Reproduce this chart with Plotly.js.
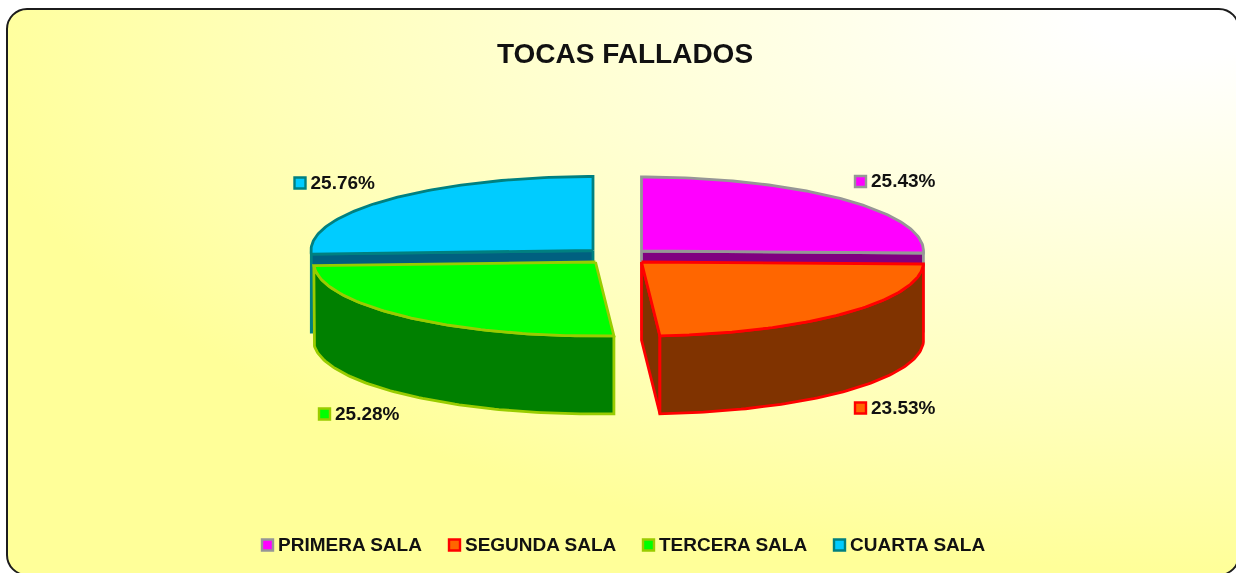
<!DOCTYPE html>
<html>
<head>
<meta charset="utf-8">
<script src="https://cdn.plot.ly/plotly-3.0.1.min.js"></script>
<style>
  html, body { margin: 0; padding: 0; width: 1236px; height: 573px; overflow: hidden; background: #fff; }
  #card { position: absolute; left: 6px; top: 8px; width: 1234px; height: 568px; box-sizing: border-box;
          border: 2px solid #1c1c1c; border-radius: 21px;
          background: radial-gradient(ellipse 1240px 560px at 96% 0%, #ffffff 8%, #ffffe0 38%, #ffffb8 75%, #ffff99 100%); }
  #chart { position: absolute; left: 0; top: 0; width: 1236px; height: 573px; filter: blur(0.4px); }
</style>
</head>
<body>
<div id="card"></div>
<div id="chart"></div>
<script>
// ---- data ----
const chartTitle = 'TOCAS FALLADOS';
const categories = ['PRIMERA SALA', 'SEGUNDA SALA', 'TERCERA SALA', 'CUARTA SALA'];
const percentages = [25.43, 23.53, 25.28, 25.76];

// ---- styles ----
const topColors  = ['#FF00FF', '#FF6600', '#00FF00', '#00CCFF'];
const wallColors = ['#800080', '#803300', '#008000', '#006080'];
const lineColors = ['#969696', '#FF0000', '#99CC00', '#008080'];

// ---- layout geometry (pixels of the 1236x573 picture) ----
const W = 1236, H = 573, CX = 617, CY = 256.5, RX = 282, RY = 74, DEPTH = 78;
const explodeX = [24.5, 24.5, -21.5, -24];
const explodeY = [-5.5, 5.5, 5.5, -6];
const valueLabelPx = [[860.5, 181.5], [860.5, 408], [324.5, 414], [300, 183]];
const legendKeyX = [267.5, 454.5, 648.5, 839.5];
const legendY = 545;
const keyToText = 10.5;

const toX = px => (px - CX) / RX;
const toY = py => (CY - py) / RX;
const rad = d => d * Math.PI / 180;

// Angular extents of the slices, clockwise from 12 o'clock
const total = percentages.reduce((a, b) => a + b, 0);
let running = 0;
const extents = percentages.map(v => {
  const a0 = running / total * 360;
  running += v;
  return [a0, running / total * 360];
});

function rim(i, deg, drop) {
  return [explodeX[i] / RX + Math.sin(rad(deg)),
          -explodeY[i] / RX + (RY / RX) * Math.cos(rad(deg)) - drop / RX];
}
function apex(i, drop) {
  return [explodeX[i] / RX, -explodeY[i] / RX - drop / RX];
}
function arc(i, a0, a1, drop) {
  const n = Math.max(2, Math.ceil(Math.abs(a1 - a0)));
  const pts = [];
  for (let k = 0; k <= n; k++) pts.push(rim(i, a0 + (a1 - a0) * k / n, drop));
  return pts;
}
function poly(name, pts, fill, line) {
  const closed = pts.concat([pts[0]]);
  return { type: 'scatter', mode: 'lines', name,
    x: closed.map(p => p[0]), y: closed.map(p => p[1]),
    fill: 'toself', fillcolor: fill,
    line: { color: line, width: 2.8, shape: 'linear' },
    showlegend: false, hoverinfo: 'skip' };
}
function topFace(i) {
  return poly(categories[i], [apex(i, 0)].concat(arc(i, extents[i][0], extents[i][1], 0)), topColors[i], lineColors[i]);
}
function cutWall(i, deg) {
  return poly(categories[i], [apex(i, 0), rim(i, deg, 0), rim(i, deg, DEPTH), apex(i, DEPTH)], wallColors[i], lineColors[i]);
}
function outerWall(i, a0, a1) {
  return poly(categories[i], arc(i, a0, a1, 0).concat(arc(i, a1, a0, DEPTH)), wallColors[i], lineColors[i]);
}
const F = 'Liberation Sans, Arial, sans-serif';
const TEXT = '#111111';

const traces = [
  cutWall(3, extents[3][0]), topFace(3),
  cutWall(0, extents[0][1]), topFace(0),
  outerWall(2, extents[2][0], extents[2][1]), topFace(2),
  cutWall(1, extents[1][1]), outerWall(1, extents[1][0], extents[1][1]), topFace(1)
];

function key(i, px, py) {
  traces.push({ type: 'scatter', mode: 'markers', name: categories[i],
    x: [toX(px)], y: [toY(py)],
    marker: { symbol: 'square', size: 11, color: topColors[i], line: { color: lineColors[i], width: 2.4 } },
    showlegend: false, hoverinfo: 'skip' });
}
function label(i, str, px, py, size) {
  traces.push({ type: 'scatter', mode: 'text', name: categories[i],
    x: [toX(px)], y: [toY(py)],
    text: [str], textposition: 'middle right',
    textfont: { family: F, size, color: TEXT, weight: 700 },
    showlegend: false, hoverinfo: 'skip' });
}
percentages.forEach((v, i) => {
  key(i, valueLabelPx[i][0], valueLabelPx[i][1]);
  label(i, v.toFixed(2) + '%', valueLabelPx[i][0] + keyToText, valueLabelPx[i][1] + 1, 19);
  key(i, legendKeyX[i], legendY);
  label(i, categories[i], legendKeyX[i] + keyToText, legendY + 1, 19);
});

const layout = {
  width: W, height: H,
  margin: { l: 0, r: 0, t: 0, b: 0 },
  paper_bgcolor: 'rgba(0,0,0,0)', plot_bgcolor: 'rgba(0,0,0,0)',
  showlegend: false, hovermode: false,
  title: { text: '<b>' + chartTitle + '</b>', x: 625 / W, xanchor: 'center', y: 1 - 53 / H, yanchor: 'middle',
           font: { family: F, size: 28, color: TEXT } },
  xaxis: { visible: false, range: [toX(0), toX(W)], fixedrange: true },
  yaxis: { visible: false, range: [toY(H), toY(0)], fixedrange: true }
};
Plotly.newPlot('chart', traces, layout, { displayModeBar: false, staticPlot: true });
</script>
</body>
</html>
